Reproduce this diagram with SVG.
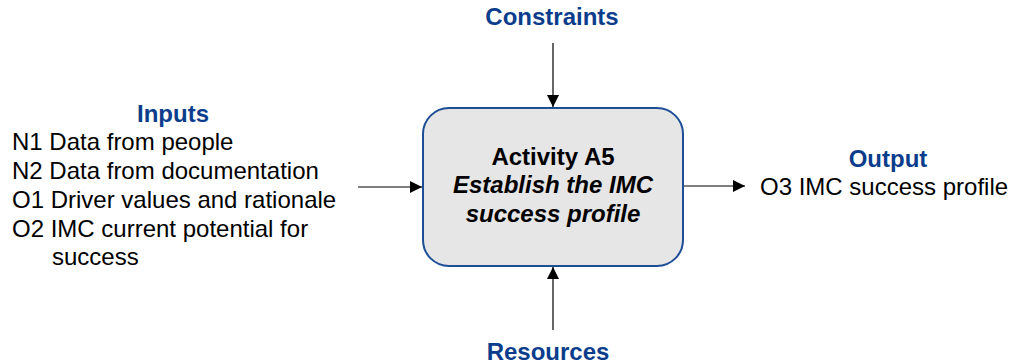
<svg xmlns="http://www.w3.org/2000/svg" width="1015" height="364" viewBox="0 0 1015 364">
  <style>
    text { font-family: "Liberation Sans", Arial, sans-serif; font-size: 24px; fill: #000; }
    .head { font-weight: bold; fill: #0b3d8c; text-anchor: middle; }
    .box { fill: #e6e6e6; stroke: #1f4e96; stroke-width: 2; }
    .conn { stroke: #000; stroke-width: 1.2; fill: none; marker-end: url(#arrow); }
    .act { text-anchor: middle; font-weight: bold; }
  </style>
  <defs>
    <marker id="arrow" markerWidth="12" markerHeight="12" viewBox="0 0 12 12" refX="12" refY="6" orient="auto" markerUnits="userSpaceOnUse">
      <path d="M0,0 L12,6 L0,12 Z" fill="#000"/>
    </marker>
  </defs>
  <rect width="1015" height="364" fill="#fff"/>

  <g id="connectors">
    <line class="conn" x1="553" y1="43" x2="553" y2="107"/>
    <line class="conn" x1="553" y1="330" x2="553" y2="267"/>
    <line class="conn" x1="358" y1="187" x2="422" y2="187"/>
    <line class="conn" x1="684" y1="186" x2="745" y2="186"/>
  </g>

  <g id="activity">
    <rect class="box" x="423" y="108" width="260" height="158" rx="26" ry="26"/>
    <text class="act" x="553" y="165">Activity A5</text>
    <text class="act" x="553" y="193" font-style="italic">Establish the IMC</text>
    <text class="act" x="553" y="222" font-style="italic">success profile</text>
  </g>

  <g id="constraints">
    <text class="head" x="552" y="25">Constraints</text>
  </g>

  <g id="resources">
    <text class="head" x="548" y="360">Resources</text>
  </g>

  <g id="inputs">
    <text class="head" x="173" y="122">Inputs</text>
    <text x="12" y="150">N1 Data from people</text>
    <text x="12" y="179">N2 Data from documentation</text>
    <text x="12" y="208">O1 Driver values and rationale</text>
    <text x="12" y="237">O2 IMC current potential for</text>
    <text x="52" y="265">success</text>
  </g>

  <g id="output">
    <text class="head" x="888" y="167">Output</text>
    <text x="760" y="195">O3 IMC success profile</text>
  </g>
</svg>
